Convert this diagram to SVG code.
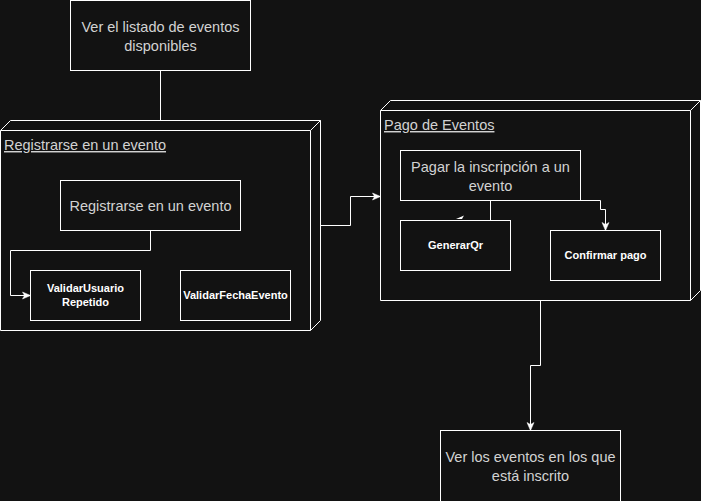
<svg xmlns="http://www.w3.org/2000/svg" width="701" height="501" viewBox="0 0 701 501">
<style>
.bg{fill:#121212}
.box{fill:#121212;stroke:#ffffff;stroke-width:1}
.edge{fill:none;stroke:#ffffff;stroke-width:1}
.lbl{font-family:"Liberation Sans",Arial,sans-serif;font-size:14.5px;fill:#d2d2d2;text-anchor:middle}
.title{font-family:"Liberation Sans",Arial,sans-serif;font-size:14.5px;fill:#d2d2d2;text-decoration:underline}
.bold{font-family:"Liberation Sans",Arial,sans-serif;font-size:11px;font-weight:bold;fill:#ffffff;text-anchor:middle}
</style>
<defs>
<marker id="arr" markerUnits="userSpaceOnUse" markerWidth="10" markerHeight="10" viewBox="0 0 10 10" refX="9" refY="5" orient="auto">
<path d="M1,1.5 L9,5 L1,8.5 L3,5 Z" fill="#ffffff" stroke="#ffffff" stroke-width="0.5"/>
</marker>
</defs>
<rect class="bg" x="0" y="0" width="701" height="501"/>

<g id="ver-listado">
<rect class="box" x="70.5" y="0.5" width="180" height="70"/>
<text class="lbl" x="160.5" y="32">Ver el listado de eventos</text>
<text class="lbl" x="160.5" y="51">disponibles</text>
</g>

<g id="registrarse-node">
<path class="box" d="M0.5,130.5 L10.5,120.5 H320.5 V320.5 L310.5,330.5 H0.5 Z"/>
<path class="edge" d="M0.5,130.5 H310.5 V330.5 M310.5,130.5 L320.5,120.5"/>
<text class="title" x="4" y="150">Registrarse en un evento</text>
</g>

<g id="registrarse">
<rect class="box" x="60.5" y="180.5" width="180" height="50"/>
<text class="lbl" x="150.5" y="211">Registrarse en un evento</text>
</g>

<g id="validar-usuario">
<rect class="box" x="30.5" y="270.5" width="110" height="50"/>
<text class="bold" x="85.5" y="292">ValidarUsuario</text>
<text class="bold" x="85.5" y="306">Repetido</text>
</g>

<g id="validar-fecha">
<rect class="box" x="180.5" y="270.5" width="110" height="50"/>
<text class="bold" x="235.5" y="299">ValidarFechaEvento</text>
</g>

<g id="pago-node">
<path class="box" d="M380.5,110.5 L390.5,100.5 H700.5 V290.5 L690.5,300.5 H380.5 Z"/>
<path class="edge" d="M380.5,110.5 H690.5 V300.5 M690.5,110.5 L700.5,100.5"/>
<text class="title" x="384" y="130">Pago de Eventos</text>
</g>

<g id="pagar">
<rect class="box" x="400.5" y="150.5" width="180" height="50"/>
<text class="lbl" x="490.5" y="172">Pagar la inscripción a un</text>
<text class="lbl" x="490.5" y="191">evento</text>
</g>

<g id="generar-qr">
<rect class="box" x="400.5" y="220.5" width="110" height="50"/>
<text class="bold" x="455.5" y="249">GenerarQr</text>
</g>

<g id="confirmar-pago">
<rect class="box" x="550.5" y="230.5" width="110" height="50"/>
<text class="bold" x="605.5" y="259">Confirmar pago</text>
</g>

<g id="ver-inscritos">
<rect class="box" x="440.5" y="430.5" width="180" height="75"/>
<text class="lbl" x="530.5" y="462">Ver los eventos en los que</text>
<text class="lbl" x="530.5" y="481">está inscrito</text>
</g>

<g id="edges">
<path class="edge" d="M160.5,70.5 V120.5"/>
<path class="edge" d="M320.5,225.5 H350.5 V196.5 H380.5" marker-end="url(#arr)"/>
<path class="edge" d="M150.5,230.5 V250.5 H10.5 V295.5 H30.5" marker-end="url(#arr)"/>
<path class="edge" d="M490.5,200.5 V220.5 H463"/>
<path d="M456,219 L464,215.5 L462,219 Z" fill="#ffffff"/>
<path class="edge" d="M580.5,200.5 H600.5 V209.5 H605.5 V230.5" marker-end="url(#arr)"/>
<path class="edge" d="M540.5,300.5 V365.5 H530.5 V430.5" marker-end="url(#arr)"/>
</g>
</svg>
